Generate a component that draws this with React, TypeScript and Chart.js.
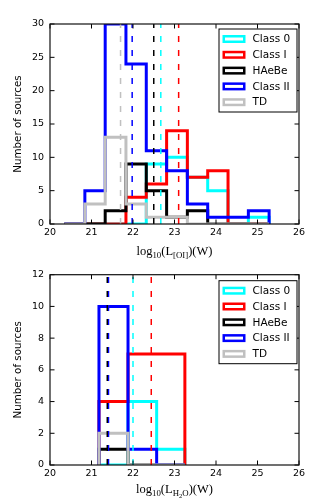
import React, { useEffect, useRef } from 'react';
import { Chart, registerables } from 'chart.js';

Chart.register(...registerables);

// ---------- data ----------
const classNames = ['Class 0', 'Class I', 'HAeBe', 'Class II', 'TD'];
const classColors = ['#00ffff', '#ff0000', '#000000', '#0000ff', '#c0c0c0'];

// [OI] luminosity histogram (bin edges, counts per class)
const oiEdges = [20.35, 20.84, 21.33, 21.83, 22.32, 22.81, 23.31, 23.8, 24.29, 24.78, 25.28];
const oiClass0 = [0, 0, 0, 0, 9, 10, 7, 5, 0, 1];
const oiClassI = [0, 0, 0, 4, 6, 14, 7, 8, 0, 0];
const oiHAeBe = [0, 0, 2, 9, 5, 1, 2, 0, 0, 0];
const oiClassII = [0, 5, 30, 24, 11, 8, 3, 1, 1, 2];
const oiTD = [0, 3, 13, 3, 1, 1, 0, 0, 0, 0];
const oiMedians = [22.67, 23.1, 22.5, 21.98, 21.7];

// H2O luminosity histogram
const h2oEdges = [21.18, 21.88, 22.57, 23.25];
const h2oClass0 = [0, 4, 1];
const h2oClassI = [4, 7, 7];
const h2oHAeBe = [1, 0, 0];
const h2oClassII = [10, 1, 0];
const h2oTD = [2, 0, 0];
const h2oMedians: (number | null)[] = [22.0, 22.44, 21.38, 21.41, null];

const xMin = 20;
const xMax = 26;
const xStep = 1;
const oiYMax = 30;
const oiYStep = 5;
const h2oYMax = 12;
const h2oYStep = 2;

const oiLabel = [
  { t: 'log', s: 0 },
  { t: '10', s: 1 },
  { t: '(L', s: 0 },
  { t: '[OI]', s: 1 },
  { t: ')(W)', s: 0 },
];
const h2oLabel = [
  { t: 'log', s: 0 },
  { t: '10', s: 1 },
  { t: '(L', s: 0 },
  { t: 'H', s: 1 },
  { t: '2', s: 2 },
  { t: 'O', s: 1 },
  { t: ')(W)', s: 0 },
];

const SANS = '"DejaVu Sans", sans-serif';
const SERIF = '"Liberation Serif", "DejaVu Serif", serif';

function stepPoints(edges: number[], counts: number[]) {
  const pts: { x: number; y: number }[] = [{ x: edges[0], y: 0 }];
  for (let i = 0; i < counts.length; i++) pts.push({ x: edges[i + 1], y: counts[i] });
  pts.push({ x: edges[edges.length - 1], y: 0 });
  return pts;
}

type Props = {
  edges: number[];
  counts: number[][];
  medians: (number | null)[];
  yMax: number;
  yStep: number;
  canvasH: number;
  padTop: number;
  label: { t: string; s: number }[];
  labelBaseline: number;
  legendTop: number;
};

function HistChart(p: Props) {
  const ref = useRef<HTMLCanvasElement | null>(null);
  useEffect(() => {
    if (!ref.current) return;
    const H = p.canvasH;
    const drawOrder = [5, 4, 3, 2, 1];
    const datasets: any[] = [];
    p.counts.forEach((c, i) => {
      datasets.push({
        label: classNames[i],
        data: stepPoints(p.edges, c),
        showLine: true,
        stepped: 'after',
        borderColor: classColors[i],
        backgroundColor: '#ffffff',
        borderWidth: 3,
        borderJoinStyle: 'miter',
        borderCapStyle: 'butt',
        pointRadius: 0,
        pointHoverRadius: 0,
        fill: false,
        clip: 0,
        order: drawOrder[i],
      });
    });
    p.medians.forEach((m, i) => {
      if (m === null) return;
      datasets.push({
        label: 'median ' + classNames[i],
        isMedian: true,
        data: [
          { x: m, y: 0 },
          { x: m, y: p.yMax },
        ],
        showLine: true,
        borderColor: classColors[i],
        borderWidth: 1.5,
        borderDash: [6, 8],
        borderCapStyle: 'butt',
        pointRadius: 0,
        pointHoverRadius: 0,
        fill: false,
        clip: 0,
        order: 0,
      });
    });

    const framePlugin = {
      id: 'frameTicks',
      afterDatasetsDraw(chart: any) {
        const { ctx, chartArea: a, scales } = chart;
        const tl = 4.5;
        ctx.save();
        ctx.strokeStyle = '#000';
        ctx.lineWidth = 1;
        ctx.beginPath();
        scales.x.ticks.forEach((t: any) => {
          const px = scales.x.getPixelForValue(t.value);
          ctx.moveTo(px, a.bottom);
          ctx.lineTo(px, a.bottom - tl);
          ctx.moveTo(px, a.top);
          ctx.lineTo(px, a.top + tl);
        });
        scales.y.ticks.forEach((t: any) => {
          const py = scales.y.getPixelForValue(t.value);
          ctx.moveTo(a.left, py);
          ctx.lineTo(a.left + tl, py);
          ctx.moveTo(a.right, py);
          ctx.lineTo(a.right - tl, py);
        });
        ctx.stroke();
        ctx.lineWidth = 1.2;
        ctx.strokeStyle = '#111';
        ctx.strokeRect(a.left, a.top, a.right - a.left, a.bottom - a.top);
        ctx.restore();
      },
      afterDraw(chart: any) {
        const { ctx, chartArea: a } = chart;
        ctx.save();
        // legend
        const fw = 78;
        const fh = 83;
        const fx = a.right - 2 - fw;
        const fy = a.top + p.legendTop;
        ctx.fillStyle = '#fff';
        ctx.fillRect(fx, fy, fw, fh);
        ctx.strokeStyle = '#000';
        ctx.lineWidth = 1;
        ctx.strokeRect(fx, fy, fw, fh);
        const hist = chart.data.datasets.filter((d: any) => !d.isMedian);
        hist.forEach((d: any, i: number) => {
          const cy = fy + 10 + i * 15.8;
          ctx.strokeStyle = d.borderColor;
          ctx.lineWidth = 2.5;
          ctx.fillStyle = '#fff';
          ctx.fillRect(fx + 3.5, cy - 4, 23, 8);
          ctx.strokeRect(fx + 3.5 + 1.25, cy - 4 + 1.25, 20.5, 5.5);
          ctx.fillStyle = '#000';
          ctx.font = '10.5px ' + SANS;
          ctx.textAlign = 'left';
          ctx.textBaseline = 'middle';
          ctx.fillText(d.label, fx + 33.5, cy + 0.5);
        });
        // y title
        ctx.fillStyle = '#000';
        ctx.font = '10.3px ' + SANS;
        ctx.textAlign = 'center';
        ctx.textBaseline = 'middle';
        ctx.translate(18, (a.top + a.bottom) / 2);
        ctx.rotate(-Math.PI / 2);
        ctx.fillText('Number of sources', 0, 0);
        ctx.setTransform(1, 0, 0, 1, 0, 0);
        // x title with subscripts
        const sizes = [12.5, 8.8, 6.6];
        const shifts = [0, 3, 5];
        let total = 0;
        const widths = p.label.map((part) => {
          ctx.font = sizes[part.s] + 'px ' + SERIF;
          const w = ctx.measureText(part.t).width;
          total += w;
          return w;
        });
        let x = (a.left + a.right) / 2 - total / 2;
        const base = a.bottom + p.labelBaseline;
        ctx.textAlign = 'left';
        ctx.textBaseline = 'alphabetic';
        p.label.forEach((part, i) => {
          ctx.font = sizes[part.s] + 'px ' + SERIF;
          ctx.fillText(part.t, x, base + shifts[part.s]);
          x += widths[i];
        });
        ctx.restore();
      },
    };

    const chart = new Chart(ref.current, {
      type: 'scatter',
      data: { datasets },
      options: {
        animation: false,
        responsive: false,
        devicePixelRatio: 1,
        layout: { padding: { top: p.padTop, right: 34, left: 0, bottom: 0 } },
        plugins: {
          legend: { display: false },
          tooltip: { enabled: false },
        },
        scales: {
          x: {
            type: 'linear',
            min: xMin,
            max: xMax,
            grid: { display: false, drawTicks: false },
            border: { display: false },
            ticks: {
              stepSize: xStep,
              padding: 3,
              color: '#000',
              font: { family: SANS, size: 9.5 },
              maxRotation: 0,
            },
            afterFit: (s: any) => {
              s.height = H - p.padTop - 200;
            },
          },
          y: {
            type: 'linear',
            min: 0,
            max: p.yMax,
            grid: { display: false, drawTicks: false },
            border: { display: false },
            ticks: {
              stepSize: p.yStep,
              padding: 6,
              color: '#000',
              font: { family: SANS, size: 9.5 },
            },
            afterFit: (s: any) => {
              s.width = 50;
            },
          },
        },
      } as any,
      plugins: [framePlugin],
    });
    return () => chart.destroy();
  }, []);
  return (
    <canvas
      ref={ref}
      width={333}
      height={p.canvasH}
      style={{ display: 'block', width: 333, height: p.canvasH }}
    />
  );
}

export default function App() {
  return (
    <div style={{ position: 'absolute', left: 0, top: 0, width: 333, height: 500, background: '#fff' }}>
      <HistChart
        edges={oiEdges}
        counts={[oiClass0, oiClassI, oiHAeBe, oiClassII, oiTD]}
        medians={oiMedians}
        yMax={oiYMax}
        yStep={oiYStep}
        canvasH={263}
        padTop={24}
        label={oiLabel}
        labelBaseline={31}
        legendTop={5}
      />
      <HistChart
        edges={h2oEdges}
        counts={[h2oClass0, h2oClassI, h2oHAeBe, h2oClassII, h2oTD]}
        medians={h2oMedians}
        yMax={h2oYMax}
        yStep={h2oYStep}
        canvasH={237}
        padTop={2}
        label={h2oLabel}
        labelBaseline={28}
        legendTop={6}
      />
    </div>
  );
}
